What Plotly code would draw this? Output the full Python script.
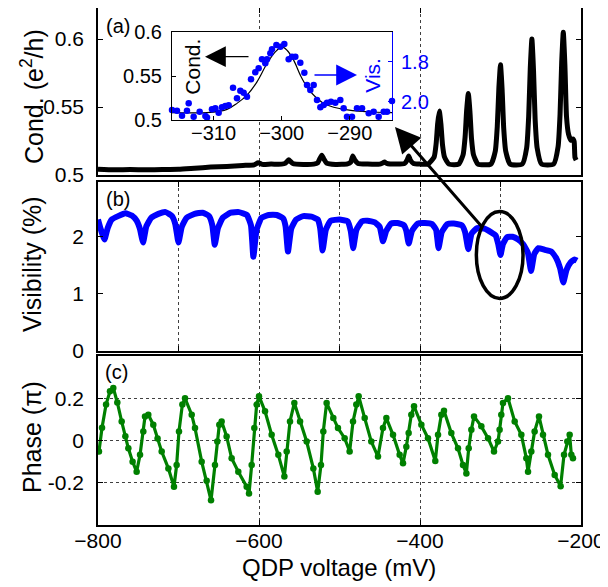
import plotly.graph_objects as go

# ---------------- data ----------------
# Panel (a): conductance (e^2/h) vs QDP voltage (mV)
cond_v = [-800, -780, -760, -740, -720, -700, -680, -660, -640, -620, -606, -601, -596, -585,
          -572, -567, -565, -563, -561, -558, -545, -532, -527, -524.5, -522, -519.5, -516,
          -505, -490, -486, -483.5, -481, -477, -465, -450, -446.5, -444, -441.5, -430, -419,
          -416, -414, -412, -408, -400, -390,
          -382.5, -380, -378, -376, -374, -372, -369.5, -364,
          -352, -346.5, -344, -342, -340, -338, -336, -333.5, -328,
          -312, -306.5, -304, -302, -300, -298, -296, -293.5, -288,
          -273, -267.5, -265, -263, -261, -259, -257, -254.5, -249,
          -234, -228.5, -226, -224, -222, -220, -218, -215.5, -212.5, -210, -208.5, -207.5, -206]
cond_g = [0.5042, 0.5038, 0.5040, 0.5038, 0.5040, 0.5042, 0.5050, 0.5058, 0.5063, 0.5070, 0.5075,
          0.5090, 0.5078, 0.5080, 0.5080, 0.5088, 0.5100, 0.5112, 0.5100, 0.5085, 0.5078, 0.5080,
          0.5090, 0.5120, 0.5146, 0.5118, 0.5088, 0.5078, 0.5082, 0.5095, 0.5140, 0.5110, 0.5085,
          0.5080, 0.5080, 0.5088, 0.5095, 0.5086, 0.5080, 0.5085, 0.5110, 0.5140, 0.5110, 0.5085,
          0.5080, 0.5080,
          0.5131, 0.5228, 0.5380, 0.5470, 0.5373, 0.5220, 0.5131, 0.5080,
          0.5080, 0.5148, 0.5278, 0.5480, 0.5600, 0.5470, 0.5267, 0.5148, 0.5080,
          0.5080, 0.5175, 0.5357, 0.5642, 0.5810, 0.5628, 0.5343, 0.5175, 0.5080,
          0.5080, 0.5200, 0.5430, 0.5788, 0.6000, 0.5770, 0.5411, 0.5200, 0.5080,
          0.5080, 0.5206, 0.5449, 0.5827, 0.6050, 0.5808, 0.5429, 0.5300, 0.5255, 0.5265, 0.5245,
          0.5130, 0.5110]

# Panel (b): visibility (%)
vis_v = [-800, -797, -792, -788, -783, -775, -766, -758, -752, -748, -744, -740, -734, -725, -716,
         -708, -704, -700, -696, -690, -680, -670, -662, -658, -655, -651, -645, -635, -625, -615,
         -610, -607, -603, -597, -588, -578, -570, -567, -564, -560, -554, -545, -535, -527, -524,
         -521, -517, -511, -500, -490, -486, -483, -479, -472, -465, -456, -450, -446, -442, -436,
         -428, -420, -417, -414, -410, -403, -394, -385, -380, -377, -373, -366, -358, -348, -344,
         -340, -336, -329, -320, -312, -306, -303, -300, -297, -292, -285, -278, -272, -266, -262,
         -258, -253, -245, -237, -231, -226, -222, -218, -213, -208, -205]
vis_p = [2.30, 2.15, 1.95, 2.15, 2.30, 2.36, 2.41, 2.37, 2.28, 2.14, 1.90, 2.18, 2.33, 2.40, 2.43,
         2.36, 2.22, 1.90, 2.17, 2.33, 2.40, 2.42, 2.36, 2.20, 1.86, 2.15, 2.33, 2.42, 2.43, 2.38,
         2.20, 1.65, 2.12, 2.33, 2.38, 2.38, 2.32, 2.18, 1.74, 2.14, 2.30, 2.36, 2.35, 2.30, 2.15,
         1.76, 2.12, 2.28, 2.30, 2.27, 2.10, 1.80, 2.12, 2.27, 2.28, 2.25, 2.17, 1.92, 2.10, 2.23,
         2.24, 2.20, 2.10, 1.88, 2.10, 2.23, 2.24, 2.22, 2.12, 1.80, 2.08, 2.22, 2.23, 2.20, 2.08,
         1.78, 2.05, 2.15, 2.14, 2.08, 2.02, 1.88, 1.68, 1.87, 1.99, 2.00, 1.95, 1.87, 1.72, 1.40,
         1.70, 1.80, 1.77, 1.74, 1.63, 1.45, 1.20, 1.42, 1.55, 1.60, 1.58]

# Panel (c): phase (pi)
ph_v = [-798.8, -795, -790, -785.1, -781, -776, -770.6, -766, -762.3, -757, -752, -747.8, -743.7,
        -741.6, -737.5, -731.3, -726, -720.9, -712.6, -705.6, -702.3, -699.4, -695.2, -691.9,
        -683.6, -679.5, -671.2, -665, -659.6, -654.7, -651.8, -649.3, -646.4, -640.2, -634,
        -625.7, -615.3, -612.4, -609.1, -605.8, -602.9, -600, -592.5, -584.3, -576, -568.5,
        -565.6, -561.5, -556.1, -549, -540.8, -532.5, -527.1, -523, -520.1, -516, -507.7,
        -501.9, -493.6, -487.4, -483.2, -479.1, -476.2, -468.7, -460.5, -452.2, -446, -441.8,
        -433.5, -425.3, -421.1, -417, -414.1, -410.8, -407.4, -398.3, -390.1, -381, -377.6,
        -373.5, -370.2, -361.1, -352.8, -346.6, -342.4, -339.5, -336.2, -332.9, -323.8, -315.5,
        -308.1, -303.1, -301.1, -299, -296.9, -290.7, -282.4, -274.1, -267.9, -265.8, -261.7,
        -257.6, -252.2, -247.2, -241, -232.7, -225.3, -221.1, -217, -214.1, -212, -210]
ph_p = [-0.052, 0.06, 0.17, 0.233, 0.249, 0.18, 0.09, 0.02, -0.037, -0.1, -0.148, -0.068, 0.043,
        0.114, 0.122, 0.075, 0.01, -0.052, -0.132, -0.219, -0.116, 0.043, 0.17, 0.2,
        0.122, 0.059, -0.1, -0.19, -0.283, -0.116, -0.005, 0.075, 0.09, 0.019, -0.084,
        -0.148, -0.219, -0.251, -0.116, 0.059, 0.17, 0.21, 0.138, 0.027, -0.068, -0.171,
        -0.052, 0.09, 0.178, 0.09, -0.005, -0.132, -0.243, -0.116, 0.043, 0.178, 0.106,
        0.059, 0.011, -0.052, 0.09, 0.17, 0.21, 0.106, -0.005, -0.076, 0.059, 0.106,
        0.027, -0.068, -0.108, -0.029, 0.035, 0.122, 0.162, 0.075, 0.011, -0.097, 0.027,
        0.122, 0.141, 0.035, -0.037, -0.116, -0.156, -0.037, 0.051, 0.114, 0.067, 0.011,
        -0.052, -0.005, 0.051, 0.122, 0.178, 0.2, 0.09, 0.027, -0.084, -0.148, -0.052,
        0.043, 0.114, 0.027, -0.068, -0.163, -0.216, -0.068, -0.005, 0.027, -0.068, -0.084]

# Inset: conductance fit and visibility points near -300 mV
inset_fit_v = [-316.1, -310.47, -308.02, -306.56, -305.09, -303.62, -302.15, -300.93, -299.95,
               -299.22, -298.24, -297.26, -296.28, -294.81, -293.34, -290.9, -287.47, -283.8]
inset_fit_g = [0.5083, 0.5087, 0.5121, 0.5189, 0.5283, 0.5434, 0.5642, 0.5774, 0.5830,
               0.5793, 0.5680, 0.5510, 0.5377, 0.5245, 0.5170, 0.5121, 0.5094, 0.5083]
inset_vis_v = [-316.1, -315.37, -314.63, -313.9, -313.65, -312.92, -312.04, -311.2, -310.96,
               -310.23, -309.74, -309.25, -308.76, -308.27, -307.78, -307.14, -306.56, -306.07,
               -305.58, -305.09, -304.5, -303.87, -303.38, -302.89, -302.4, -302.15, -301.66,
               -301.42, -300.78, -300.19, -299.61, -298.97, -298.48, -297.99, -297.26, -296.67,
               -296.28, -295.79, -295.3, -294.81, -294.32, -293.83, -293.34, -292.76, -292.12,
               -291.39, -290.9, -290.41, -289.67, -288.94, -288.2, -287.71, -287.22, -286.49,
               -285.76, -285.02, -284.53, -283.8]
inset_vis_p = [2.042, 2.045, 2.070, 2.045, 2.008, 2.075, 2.050, 2.072, 2.079, 2.038, 2.033,
               2.055, 2.028, 2.022, 2.018, 1.930, 1.983, 1.945, 1.955, 1.975, 1.888, 1.853,
               1.833, 1.788, 1.808, 1.788, 1.758, 1.738, 1.717, 1.725, 1.711, 1.788, 1.775,
               1.775, 1.805, 1.855, 1.917, 1.942, 1.917, 1.992, 2.028, 2.017, 2.005, 2.000,
               2.005, 1.992, 2.033, 2.075, 2.075, 2.033, 2.033, 2.095, 2.058, 2.050, 2.075,
               2.050, 2.050, 1.997]

# ---------------- figure ----------------
FONT = "Liberation Sans, Arial, Helvetica, sans-serif"
BLUE = "#0000ff"
GREEN = "#008000"

fig = go.Figure()
fig.add_trace(go.Scatter(x=cond_v, y=cond_g, mode="lines",
                         line=dict(color="black", width=5, shape="spline", smoothing=0.5),
                         xaxis="x", yaxis="y", showlegend=False))
fig.add_trace(go.Scatter(x=vis_v, y=vis_p, mode="lines",
                         line=dict(color=BLUE, width=6, shape="spline", smoothing=0.4),
                         xaxis="x2", yaxis="y2", showlegend=False))
fig.add_trace(go.Scatter(x=ph_v, y=ph_p, mode="lines+markers",
                         line=dict(color=GREEN, width=3.2),
                         marker=dict(color=GREEN, size=6.5),
                         xaxis="x3", yaxis="y3", showlegend=False))
fig.add_trace(go.Scatter(x=inset_fit_v, y=inset_fit_g, mode="lines",
                         line=dict(color="black", width=1.2, shape="spline"),
                         xaxis="x4", yaxis="y4", showlegend=False))
fig.add_trace(go.Scatter(x=inset_vis_v, y=inset_vis_p, mode="markers",
                         marker=dict(color=BLUE, size=6.5), cliponaxis=False,
                         xaxis="x4", yaxis="y5", showlegend=False))

# The page body adds an 8 px offset; all positions below are given in window pixels.
OFF = 8
W, H = 600, 579
L, R, T, B = 90, 27, 0, 62
PW, PH = W - L - R, H - T - B


def px(xw):
    return (xw - OFF - L) / PW


def py(yw):
    return min(1.0, (H - B - (yw - OFF)) / PH)


common = dict(showline=True, linecolor="black", linewidth=1.6, ticks="inside", ticklen=5,
              tickwidth=1, tickcolor="black", zeroline=False, mirror="ticks", automargin=False,
              tickfont=dict(family=FONT, size=21, color="black"))
grid = dict(showgrid=True, griddash="dot", gridcolor="rgba(0,0,0,0.75)", gridwidth=1)
nogrid = dict(showgrid=False)

xr = [-800, -200]
fig.update_layout(
    template="none",
    width=W, height=H,
    margin=dict(l=L, r=R, t=T, b=B, autoexpand=False),
    paper_bgcolor="white", plot_bgcolor="white",
    font=dict(family=FONT, color="black"),
    xaxis=dict(domain=[0, 1], range=xr, anchor="y", tickvals=[-800, -600, -400, -200],
               showticklabels=False, **common, **grid),
    yaxis=dict(domain=[py(175), py(8)], range=[0.5, 0.5 + (175 - 8) * 0.05 / 68], anchor="x",
               tickvals=[0.5, 0.55, 0.6], ticktext=["0.5", "0.55", "0.6"],
               ticklabelstandoff=8, **common, **nogrid),
    xaxis2=dict(domain=[0, 1], range=xr, anchor="y2", dtick=100, tick0=-800,
                showticklabels=False, **common, **grid),
    yaxis2=dict(domain=[py(351), py(182)], range=[0, (351 - 182) / 57.15], anchor="x2",
                tickvals=[0, 1, 2], ticklabelstandoff=8, **common, **nogrid),
    xaxis3=dict(domain=[0, 1], range=xr, anchor="y3", tickvals=[-800, -600, -400, -200],
                ticklabelstandoff=-4, **common, **grid),
    yaxis3=dict(domain=[0, py(356)], range=[-0.4, 0.4], anchor="x3",
                tickvals=[-0.2, 0, 0.2], ticktext=["-0.2", "0", "0.2"],
                ticklabelstandoff=8, **common, **grid),
    xaxis4=dict(domain=[px(172), px(392)], range=[-316.1, -283.8], anchor="y4",
                tickvals=[-310, -300, -290], showline=True, linecolor="black", linewidth=1,
                mirror=True, ticks="inside", ticklen=4, tickcolor="black", zeroline=False,
                showgrid=False, ticklabelstandoff=-5, automargin=False,
                tickfont=dict(family=FONT, size=20, color="black")),
    yaxis4=dict(domain=[py(120), py(32)], range=[0.5, 0.6], anchor="x4",
                tickvals=[0.5, 0.55, 0.6], ticktext=["0.5", "0.55", "0.6"],
                showline=True, linecolor="black", linewidth=1, mirror=False,
                ticks="inside", ticklen=4, tickcolor="black", zeroline=False, showgrid=False,
                ticklabelstandoff=5, automargin=False,
                tickfont=dict(family=FONT, size=20, color="black")),
    yaxis5=dict(overlaying="y4", side="right", anchor="x4", range=[2.0915, 1.6515],
                tickvals=[1.8, 2.0], ticktext=["1.8", "2.0"],
                showline=True, linecolor=BLUE, linewidth=1, ticks="inside", ticklen=4,
                tickcolor=BLUE, zeroline=False, showgrid=False, ticklabelstandoff=4,
                automargin=False, tickfont=dict(family=FONT, size=20, color=BLUE)),
)

# inset background
fig.add_shape(type="rect", xref="paper", yref="paper", x0=px(172), x1=px(392),
              y0=py(120), y1=py(32), fillcolor="#ececec", line=dict(width=0), layer="below")

# ellipse around the -300 mV dip in panel (b)
fig.add_shape(type="circle", xref="x2", yref="y2", x0=-330, x1=-272, y0=0.92, y1=2.44,
              line=dict(color="black", width=3.5))

ann = []
# big arrow from ellipse to inset
ann.append(dict(x=px(395), y=py(127), xref="paper", yref="paper", ax=88, ay=101,
                showarrow=True, arrowhead=2, arrowsize=1.7, arrowwidth=3, arrowcolor="black",
                text=""))
# inset arrows
ann.append(dict(x=px(205), y=py(56.7), xref="paper", yref="paper", ax=45, ay=0,
                showarrow=True, arrowhead=2, arrowsize=3.2, arrowwidth=1.3,
                arrowcolor="black", text=""))
ann.append(dict(x=px(357), y=py(75), xref="paper", yref="paper", ax=-44, ay=0,
                showarrow=True, arrowhead=2, arrowsize=3.2, arrowwidth=1.3,
                arrowcolor=BLUE, text=""))
# inset axis names
ann.append(dict(x=px(191.7), y=py(67), xref="paper", yref="paper", text="Cond.",
                textangle=-90, showarrow=False, xanchor="center", yanchor="middle",
                font=dict(family=FONT, size=21, color="black")))
ann.append(dict(x=px(371.7), y=py(75), xref="paper", yref="paper", text="Vis.",
                textangle=-90, showarrow=False, xanchor="center", yanchor="middle",
                font=dict(family=FONT, size=21, color=BLUE)))
# panel labels
for lab, xx, yy in [("(a)", 118, 26), ("(b)", 117.5, 199), ("(c)", 116.5, 372)]:
    ann.append(dict(x=px(xx), y=py(yy), xref="paper", yref="paper", text=lab,
                    showarrow=False, xanchor="center", yanchor="middle",
                    font=dict(family=FONT, size=20, color="black")))
# axis titles
for lab, yy in [("Cond. (e<sup>2</sup>/h)", 97), ("Visibility (%)", 264), ("Phase (π)", 437)]:
    ann.append(dict(x=px(32), y=py(yy), xref="paper", yref="paper", text=lab, textangle=-90,
                    showarrow=False, xanchor="center", yanchor="middle",
                    font=dict(family=FONT, size=25, color="black")))
ann.append(dict(x=px(339), y=py(567), xref="paper", yref="paper", text="QDP voltage (mV)",
                showarrow=False, xanchor="center", yanchor="middle",
                font=dict(family=FONT, size=24, color="black")))
fig.update_layout(annotations=ann)

fig.write_html("out.html")
